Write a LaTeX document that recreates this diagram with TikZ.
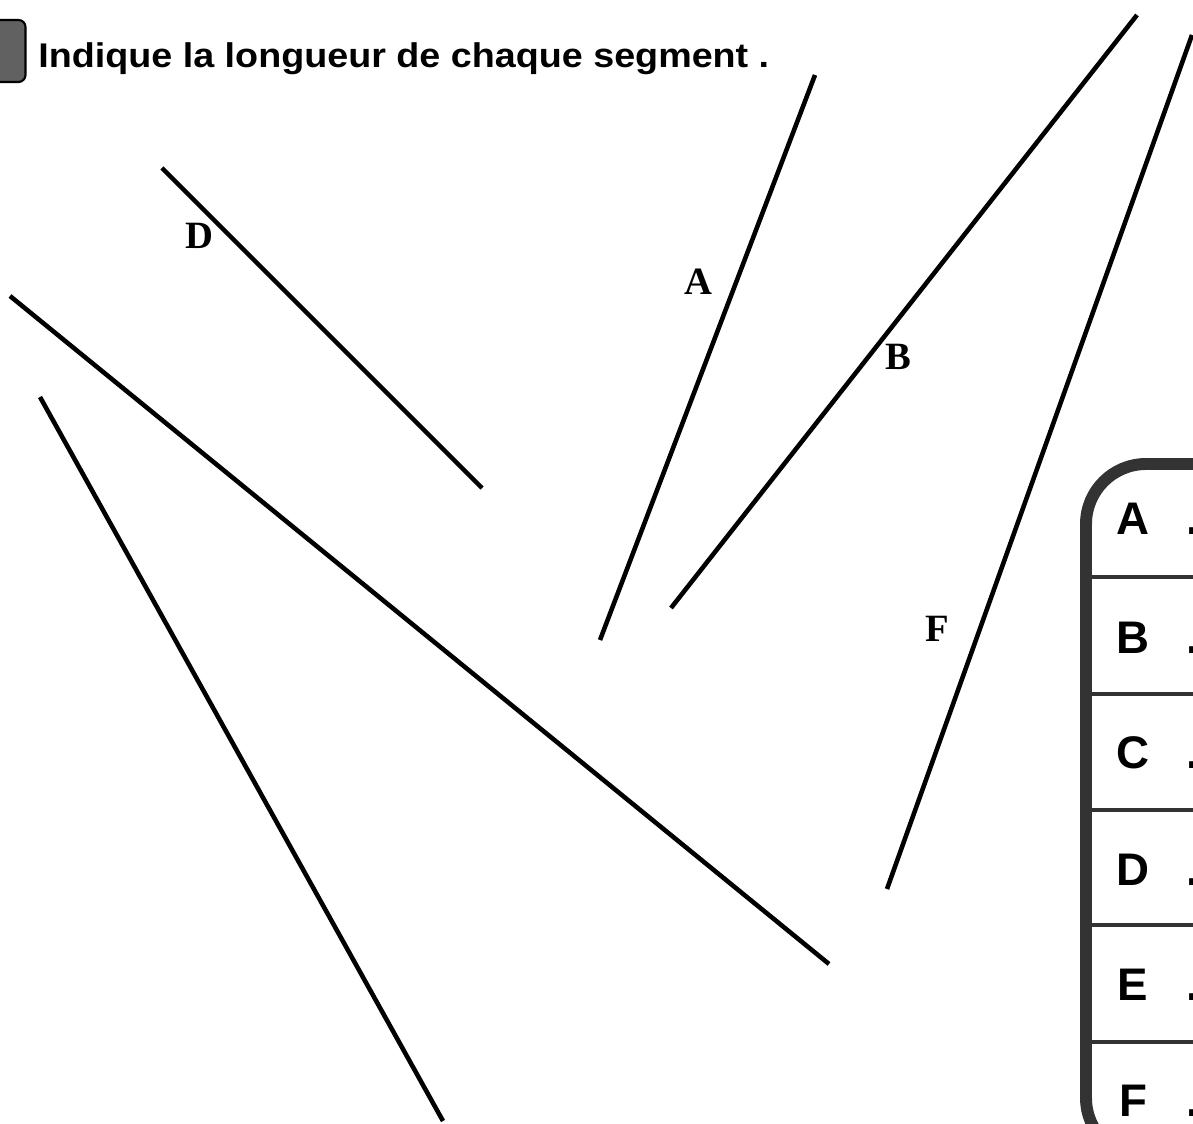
\documentclass[tikz,border=0pt]{standalone}
\usepackage{fontspec}
\setmainfont{Liberation Serif}
\newfontfamily\titlefont{Liberation Sans}
\newfontfamily\tabfont{Liberation Sans}
\begin{document}
\begin{tikzpicture}[x=0.02cm,y=-0.02cm,
  seg/.style={line width=2.6pt},
  lbl/.style={font=\fontsize{22}{24}\selectfont\bfseries, inner sep=0pt},
  rowlet/.style={font=\tabfont\fontsize{26}{28}\selectfont\bfseries, inner sep=0pt, anchor=base},
  dots/.style={font=\tabfont\fontsize{26}{28}\selectfont\bfseries, inner sep=0pt, anchor=base west},
  sep/.style={line width=2.8pt, draw=black!80},
]
\useasboundingbox (0,0) rectangle (1193,1124);
\clip (0,0) rectangle (1193,1124);
% title
\node[draw=black, line width=1.2pt, fill=black!62, rounded corners=4pt, minimum width=0.7cm, minimum height=1.24cm, inner sep=0pt] (box) at (8,51) {};
\node[anchor=base west, inner sep=0pt, xscale=1.1, font=\titlefont\fontsize{19.5}{22}\selectfont\bfseries] (title) at (38,68) {Indique la longueur de chaque segment .};
% segments
\coordinate (d1) at (162,168); \coordinate (d2) at (482,488);
\coordinate (a1) at (815,75);  \coordinate (a2) at (600,640);
\coordinate (b1) at (1137,15); \coordinate (b2) at (671,608);
\coordinate (f1) at (1192,35); \coordinate (f2) at (887,889);
\coordinate (c1) at (10,296);  \coordinate (c2) at (829,964);
\coordinate (e1) at (40,397);  \coordinate (e2) at (443,1121);
\draw[seg] (d1) -- (d2);
\draw[seg] (a1) -- (a2);
\draw[seg] (b1) -- (b2);
\draw[seg] (f1) -- (f2);
\draw[seg] (c1) -- (c2);
\draw[seg] (e1) -- (e2);
% labels
\node[lbl] (lD) at (199,236) {D};
\node[lbl] (lA) at (698,282) {A};
\node[lbl] (lB) at (898,357) {B};
\node[lbl] (lF) at (937,629) {F};
% table
\draw[line width=6.8pt, draw=black!80, rounded corners=1.2cm] (1300,1158) -- (1086,1158) -- (1086,464) -- (1300,464);
\foreach \yy in {577,694,810,925,1042} \draw[sep] (1092,\yy) -- (1200,\yy);
\node[rowlet] (tA) at (1133,535) {A};
\node[rowlet] (tB) at (1133,653) {B};
\node[rowlet] (tC) at (1133,768) {C};
\node[rowlet] (tD) at (1133,885) {D};
\node[rowlet] (tE) at (1133,1000) {E};
\node[rowlet] (tF) at (1133,1116) {F};
\foreach \yy/\nm in {535/A,653/B,768/C,885/D,1000/E,1116/F}
  \node[dots] (dt\nm) at (1186,\yy) {.......};
\end{tikzpicture}
\end{document}
